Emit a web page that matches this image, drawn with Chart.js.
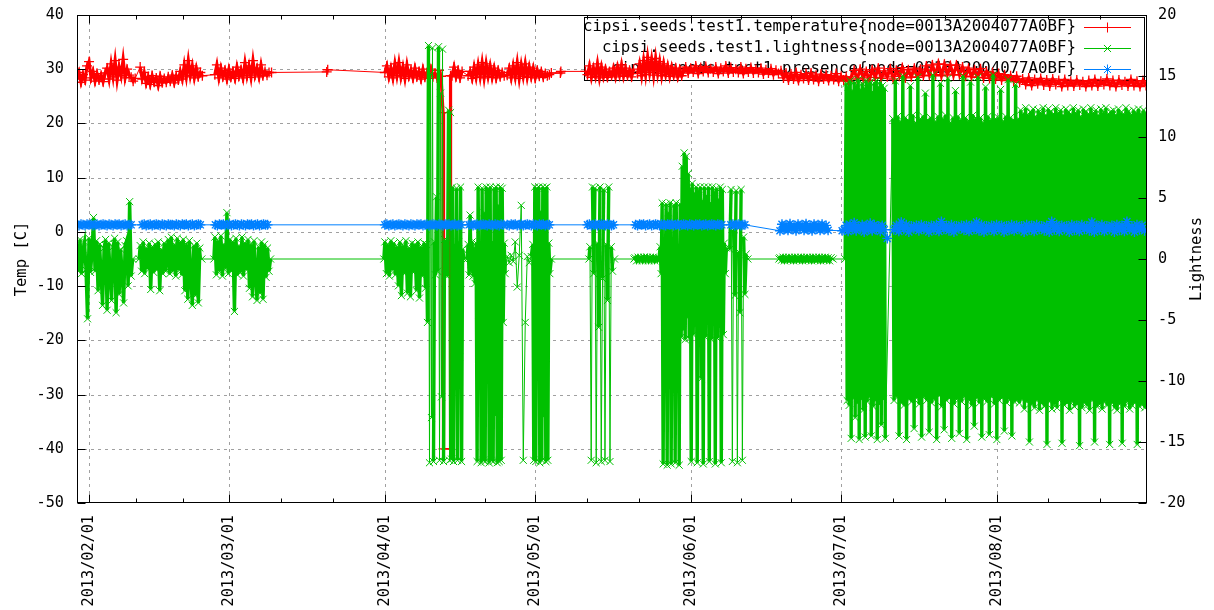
<!DOCTYPE html>
<html>
<head>
<meta charset="utf-8">
<script src="https://cdn.jsdelivr.net/npm/chart.js@4.4.1/dist/chart.umd.min.js"></script>
<style>html,body{margin:0;padding:0;background:#fff;}canvas{display:block;}</style>
</head>
<body>
<canvas id="c" width="1214" height="610"></canvas>
<script>
// ---------- DATA (x = day of year 2013, Jan 1 = 0) ----------
const monthTickDays = [31, 59, 90, 120, 151, 181, 212];
const monthTickLabels = ['2013/02/01','2013/03/01','2013/04/01','2013/05/01','2013/06/01','2013/07/01','2013/08/01'];
const tempTicks = [-50, -40, -30, -20, -10, 0, 10, 20, 30, 40];
const lightTicks = [-20, -15, -10, -5, 0, 5, 10, 15, 20];
const seriesLabels = [
  'cipsi.seeds.test1.temperature{node=0013A2004077A0BF}',
  'cipsi.seeds.test1.lightness{node=0013A2004077A0BF}',
  'cipsi.seeds.test1.presence{node=0013A2004077A0BF}'
];
// segments: [startDay, stepDays, [values...]]  or single points [day, value]
const temperature = [
  [28.6, 0.4, [28.2,29.4,27.6,29.0,28.0,30.6,31.4,28.4,29.6,27.8,29.2,28.0,28.9,27.7,29.3,30.2,28.2,31.0,28.6,31.6,28.0,30.4,28.8,31.8,28.4,30.0,28.9,28.5,27.8,28.3]],
  [41.2, 0.4, [30.4,28.2,29.4,27.4,28.6,27.2,28.8,27.6,28.4,27.0,28.7,27.5,28.3,27.6,28.6,27.8,28.9,27.5,28.8,28.0,29.6,28.2,30.8,28.6,31.6,28.8,30.6,28.4,30.2,28.6,29.4,28.8]],
  [56.1, 0.4, [29.0,30.8,28.4,30.2,28.6,29.8,28.2,30.0,28.5,29.6,28.3,30.4,28.7,29.9,28.4,31.2,28.8,30.6,28.5,31.6,28.9,30.2,28.6,30.8,28.8,29.6,28.9,29.4]],
  [67.4, 29.4], [78.4, 29.5], [78.6, 29.9],
  [90.0, 0.4, [29.4,30.6,28.6,30.2,28.4,31.0,28.8,31.2,28.6,30.4,28.3,30.8,28.7,29.8,28.4,30.2,28.6,29.6,28.2,30.0,28.5,29.4,28.3,30.0,28.6,29.2,28.4,29.8,28.7]],
  [101.6, 22.0], [101.7, -40.0], [103.0, -40.0], [103.1, 28.8],
  [103.4, 0.4, [28.8,30.4,28.6,29.8,28.4,29.6]],
  [106.6, 0.4, [28.8,29.6,28.3,30.4,28.5,30.8,28.6,31.2,28.4,31.0,28.7,30.6,28.5,30.2,28.4,29.8,28.6,29.4,28.8]],
  [114.4, 0.4, [28.9,30.2,28.4,30.6,28.6,31.2,28.3,30.8,28.7,31.0,28.5,30.4,28.6,30.2,28.4,29.8,28.7,29.6,28.5,29.2,28.8,29.0]],
  [123.2, 29.3], [125.0, 29.3], [125.1, 29.6], [130.0, 29.6],
  [130.4, 0.4, [29.0,30.6,28.5,30.2,28.7,31.0,28.4,30.4,28.6,30.0,28.5,29.6,28.8,30.2,28.6,30.4,28.9,30.8,28.7,30.2,28.8,29.8,28.6,30.0]],
  [140.4, 0.4, [29.2,31.0,28.8,31.6,29.0,32.2,29.4,31.8,28.9,32.0,29.2,31.4,28.8,31.0,29.0,30.6,28.7,30.4,28.9,30.2,28.6,30.0,28.8]],
  [149.5, 0.5, [29.6,30.4,29.3,30.2,29.5,30.6,29.2,30.3,29.6,30.5,29.4,30.1,29.5,30.4,29.2,30.2,29.6,30.6,29.3,30.3,29.5,30.0,29.4,30.4,29.2,30.1,29.5,30.3,29.3,30.0,29.4,30.2,29.1,29.9,29.3,30.1,29.0,29.8,29.2,29.7]],
  [169.5, 0.5, [28.4,29.3,28.0,29.1,28.2,29.4,27.9,29.0,28.3,29.2,28.0,29.3,28.1,28.9,27.8,29.1,28.2,29.0,27.9,28.8,28.1,29.2,27.8,28.7,28.0,28.6,27.7]],
  [183.0, 0.6, [28.6,29.8,28.2,30.0,28.4,29.6,28.0,29.9,28.5,30.2,28.3,29.7,28.6,30.1,28.2,29.8,28.7,30.3,28.4,29.9,28.6,30.2,28.5,30.0,28.8,30.6,28.9,30.8,29.0,31.0,28.8,30.9,29.1,30.7,28.9,30.8,29.0,30.4,28.7,30.2,28.6,29.9,28.5,30.1,28.4,29.6,28.3,29.4,28.2,29.2,28.0,29.0,27.9,28.8,27.8,28.7,27.6]],
  [217.2, 0.6, [28.2,27.2,28.4,27.0,28.1,27.3,28.3,27.1,28.0,26.9,28.2,27.2,27.9,26.8,28.1,27.0,27.8,26.9,28.0,27.1,27.7,26.8,27.9,27.0,28.1,26.9,27.8,27.2,28.2,27.0,27.9,26.8,28.0,27.1,27.7,26.9,28.1,27.0,27.8,26.8,27.9,27.0]]
];
const lightness = [
  [28.6, 0.3, [1.2,-1.0,1.6,-1.2,0.8,1.4,-0.9,-4.9,1.7,-1.1,0.6,3.4,-1.0,1.5,-2.6,1.2,-1.3,-3.8,0.9,1.6,-4.2,1.3,-1.2,-3.4,1.0,1.7,-4.4,1.4,-2.9,0.8,-1.2,-3.6,1.1,1.5,-2.2,4.7,-1.4]],
  [39.7, 0], [41.0, 0],
  [41.2, 0.3, [1.1,-1.0,1.4,-1.2,0.9,-0.8,1.3,-2.5,1.0,-1.1,1.2,-0.9,1.4,-2.6,0.8,-1.2,1.3,-1.0,0.9]],
  [46.8, 0.3, [1.6,-1.2,1.8,-1.0,1.2,-1.4,1.7,-0.9,1.4,-1.3,1.6,-2.6,1.2,-3.3,1.5,-1.4,-3.8,1.1,-3.0,1.3,-3.6,0.9]],
  [53.5, 0], [55.9, 0],
  [56.1, 0.3, [1.8,-1.3,1.5,-1.0,1.9,-1.4,1.2,-0.8,3.8,-1.2,1.6,-1.0,1.4,-4.3,1.7,-1.3,1.1,-1.1,1.8,-1.4,1.3,-0.9,1.6,-2.4,1.2,-3.1,1.5,-1.3,-3.4,1.0,-2.8,1.4,-3.3,1.2,-1.5,0.9,-1.0]],
  [67.2, 0], [89.8, 0],
  [90.0, 0.3, [1.4,-1.2,1.2,-1.4,1.5,-0.9,1.3,-1.3,1.0,-2.2,1.4,-3.0,1.1,-1.2,1.5,-2.8,0.9,-3.1,1.3,-1.1,1.2,-2.6,1.4,-3.2,1.0,-1.4,1.3,-2.4]],
  [98.3, 0.2, [1.2,-5.2,17.5,-16.7,15.2,-13.0,17.3,-16.6,1.4,-1.3,5.1,-1.0,17.4,-16.5,13.6,-11.3,17.2,-16.6,1.6,-1.3,1.3,-1.4,12.2,-16.5,12.0,-16.4,5.9,-16.6,1.2,-9.3,5.8,-16.5,1.4,-8.0,5.9,-16.6,0.8]],
  [105.8, 0], [106.4, 0],
  [106.6, 0.2, [1.2,-1.3,3.6,-1.0,1.4,-1.4,0.9,-2.0,1.3,-16.6,5.9,-5.2,1.2,-16.7,5.8,-16.5,3.8,-16.6,5.9,-8.1,5.7,-16.7,5.9,-16.5,1.4,-16.6,5.8,-12.8,5.9,-16.7,4.4,-16.6,5.9,-16.5,5.8,-5.2,1.3,-1.2]],
  [114.4, 0.4, [0.2,-0.3,0.3,-0.2,1.4,-2.3,0.3,4.4,-16.5,-5.2,0.2,-0.3,0.2]],
  [119.5, 0.2, [1.2,-16.5,5.9,-16.6,5.8,-8.2,5.9,-16.7,3.9,-16.5,5.9,-12.9,5.8,-16.6,5.9,-16.5,1.3,-1.2]],
  [123.2, 0], [130.7, 0],
  [130.9, 0.25, [1.0,-16.5,5.9,-1.2,5.8,-16.7,1.3,-5.6,5.9,-16.6,-1.6,5.7,-16.5,1.2,-3.4,5.9,-16.6,1.0,-1.0]],
  [135.8, 0], [139.7, 0],
  [139.9, 0.3, [0.1,-0.15,0.15,-0.1,0.1,-0.15,0.15,-0.1,0.15,-0.15,0.1,-0.1,0.15,-0.15,0.1,-0.1,0.1]],
  [144.9, 0.2, [1.0,-1.2,4.6,-16.8,1.5,-1.4,4.5,-16.9,3.8,-5.8,4.6,-16.8,1.6,-1.6,4.4,-16.7,4.6,-3.5,1.2,-16.9,4.5,-6.4,7.6,-5.8,8.7,-6.6,8.4,-4.8,7.0,-6.5,5.8,-16.6,6.2,-6.2,5.4,-5.5,5.9,-16.7,5.6,-6.6,5.9,-9.8,4.8,-16.8,5.9,-6.4,5.2,-5.0,5.9,-16.6,4.6,-6.6,5.9,-3.9,5.5,-16.8,5.8,-6.5,4.9,-5.6,5.9,-16.7,5.7,-6.2,1.3,-1.2,0.9]],
  [158.8, 0.25, [0.8,5.7,-16.6,2.4,-3.0,5.6,-16.7,0.6,-4.4,5.7,-16.5,1.8,-2.9,0.4]],
  [162.4, 0], [168.6, 0],
  [168.8, 0.3, [0.1,-0.1,0.15,-0.15,0.1,-0.1,0.15,-0.1,0.1,-0.15,0.15,-0.1,0.1,-0.1,0.15,-0.15,0.1,-0.1,0.15,-0.1,0.1,-0.15,0.15,-0.1,0.1,-0.1,0.15,-0.15,0.1,-0.1,0.15,-0.1,0.1,-0.15,0.1]],
  [179.4, 0], [181.8, 0],
  [182.0, 0.2, [14.4,-11.6,14.1,-12.0,14.6,-14.7,13.8,-11.4,14.5,-13.0,14.2,-11.8,14.7,-14.8,13.9,-11.5,14.4,-12.4,14.0,-14.6,14.6,-11.7,14.3,-11.3,14.5,-14.5,13.7,-12.1,14.4,-11.6,14.6,-14.8,14.1,-11.9,14.5,-13.6,14.2,-11.5,14.0,-14.7]],
  [191.3, 0.25, [
    11.5,-11.6,14.6,-11.3,11.7,-14.5,11.3,-11.8,15.0,-12.0,
    11.6,-14.8,11.4,-11.5,14.2,-11.7,11.8,-13.9,11.2,-11.4,
    14.9,-11.9,11.5,-14.6,11.7,-11.3,13.6,-11.6,11.4,-14.2,
    11.6,-11.8,15.1,-11.5,11.3,-14.8,11.7,-11.2,14.4,-12.1,
    11.5,-14.0,11.8,-11.6,14.8,-11.4,11.2,-14.7,11.6,-11.9,
    13.8,-11.5,11.7,-14.3,11.4,-11.7,15.0,-11.3,11.6,-14.8,
    11.3,-11.6,14.5,-12.0,11.8,-13.7,11.5,-11.4,14.9,-11.8,
    11.6,-14.6,11.2,-11.5,14.1,-11.7,11.7,-14.4,11.4,-11.3,
    15.1,-11.9,11.5,-14.8,11.6,-11.6,13.9,-11.4,11.3,-14.1,
    11.7,-11.8,14.7,-11.5,11.6,-14.5,11.4,-11.7,14.3,-11.6,
    11.5,
    -11.8,12.2,-11.5,11.9,-12.3,12.4,-11.7,11.8,-15.0,12.1,
    -11.9,12.3,-12.2,11.7,-11.6,12.2,-12.4,12.0,-11.8,12.4,
    -12.1,11.8,-15.2,12.3,-11.7,12.1,-12.3,11.9,-11.9,12.4,
    -12.2,12.0,-11.6,12.2,-15.1,11.8,-12.0,12.3,-11.8,12.1,
    -12.4,11.9,-11.7,12.4,-12.1,12.0,-11.9,12.2,-15.3,11.7,
    -12.2,12.3,-11.8,12.1,-12.0,11.9,-12.4,12.4,-11.6,12.0,
    -15.0,12.2,-12.1,11.8,-11.9,12.3,-12.3,12.0,-11.7,12.4,
    -12.0,11.9,-15.2,12.1,-11.8,12.2,-12.2,11.8,-12.4,12.3,
    -11.9,12.0,-15.1,11.9,-12.1,12.4,-11.7,12.1,-12.3,11.8,
    -12.0,12.2,-11.8,12.0,-15.2,12.3,-12.1,11.9,-11.9,12.2,
    -12.2,12.0]]
];
const presence = [
  [28.6, 0.4, [1.3,1.2,1.4,1.3,1.2,1.4,1.3,1.4,1.2,1.3,1.4,1.2,1.3,1.4,1.3,1.2,1.4,1.3,1.2,1.4,1.3,1.4,1.2,1.3,1.4,1.2,1.3,1.3]],
  [41.6, 0.4, [1.3,1.4,1.2,1.3,1.4,1.2,1.3,1.4,1.3,1.2,1.4,1.3,1.2,1.4,1.3,1.3,1.2,1.4,1.3,1.2,1.4,1.3,1.4,1.2,1.3,1.4,1.2,1.3,1.4,1.3]],
  [56.2, 0.4, [1.3,1.2,1.4,1.3,1.4,1.2,1.3,1.4,1.2,1.3,1.4,1.3,1.2,1.4,1.3,1.2,1.4,1.3,1.4,1.2,1.3,1.4,1.2,1.3,1.4,1.3,1.3]],
  [90.0, 0.4, [1.3,1.4,1.2,1.3,1.4,1.2,1.3,1.4,1.3,1.2,1.4,1.3,1.2,1.4,1.3,1.2,1.4,1.3,1.4,1.2,1.3,1.4,1.2,1.3,1.4,1.3,1.2,1.4,1.3,1.2,1.4,1.3,1.4,1.2,1.3,1.4,1.2,1.3,1.3]],
  [106.8, 0.4, [1.3,1.4,1.2,1.3,1.4,1.2,1.3,1.4,1.3,1.2,1.4,1.3,1.2,1.4,1.3,1.2,1.4,1.3]],
  [114.4, 0.4, [1.3,1.2,1.4,1.3,1.4,1.2,1.3,1.4,1.2,1.3,1.4,1.3,1.2,1.4,1.3,1.2,1.4,1.3,1.4,1.2,1.3,1.3]],
  [130.4, 0.4, [1.3,1.4,1.2,1.3,1.4,1.2,1.3,1.4,1.3,1.2,1.4,1.3,1.2,1.3]],
  [140.0, 0.4, [1.3,1.2,1.4,1.3,1.4,1.2,1.3,1.4,1.2,1.3,1.4,1.3,1.2,1.4,1.3,1.2,1.4,1.3,1.4,1.2,1.3,1.4,1.2,1.3,1.4,1.3,1.2,1.4,1.3,1.2,1.4,1.3,1.4,1.2,1.3,1.4,1.2,1.3,1.4,1.3,1.2,1.4,1.3,1.3]],
  [159.0, 0.4, [1.3,1.4,1.2,1.3,1.4,1.2,1.3,1.3]],
  [168.8, 0.4, [0.2,1.4,0.4,1.3,0.3,1.5,0.5,1.2,0.2,1.4,0.6,1.3,0.3,1.5,0.4,1.2,0.2,1.4,0.5,1.3,0.3,1.4,0.4,1.2,0.3]],
  [181.2, 0.2],
  [181.6, 0.4, [0.4,1.2,0.1,1.3,0.5,1.7,0.2,1.1,0.6,1.3,0.0,1.2,0.4,1.6,0.2,1.3,0.5,1.1,0.1,1.2,0.4]],
  [190.2, -1.2],
  [191.5, 0.5, [
    0.4,1.2,0.1,1.8,0.5,1.3,0.0,1.1,0.6,1.2,
    0.2,1.3,0.5,1.1,0.0,1.2,0.4,1.3,0.1,1.9,
    0.5,1.2,0.2,1.3,0.0,1.1,0.6,1.2,0.3,1.3,
    0.1,1.2,0.5,1.8,0.2,1.3,0.0,1.1,0.4,1.2,
    0.1,1.3,0.5,1.2,0.0,1.1,0.3,1.3,0.2,1.2,
    0.5,1.1,0.0,1.3,0.4,1.2,0.1,1.3,0.5,1.1,
    0.2,1.2,0.0,1.9,0.4,1.3,0.1,1.2,0.5,1.1,
    0.0,1.3,0.3,1.2,0.1,1.3,0.5,1.1,0.2,1.8,
    0.0,1.2,0.4,1.3,0.1,1.1,0.5,1.2,0.0,1.3,
    0.3,1.2,0.1,1.9,0.5,1.1,0.0,1.3,0.4,1.2,
    0.2]]
];

// ---------- helpers ----------
function build(segs) {
  const out = [];
  for (const s of segs) {
    if (Array.isArray(s[2])) {
      const t0 = s[0], dt = s[1];
      s[2].forEach((v, i) => out.push({ x: +(t0 + i * dt).toFixed(3), y: v }));
    } else {
      out.push({ x: s[0], y: s[1] });
    }
  }
  return out;
}
const FONT = '"DejaVu Sans Mono", "Liberation Mono", monospace';
const COLORS = ['#ff0000', '#00c000', '#0080ff'];
const STYLES = ['cross', 'crossRot', 'star'];

function drawMarker(ctx, style, x, y, r) {
  ctx.beginPath();
  if (style === 'cross' || style === 'star') {
    ctx.moveTo(x - r, y); ctx.lineTo(x + r, y);
    ctx.moveTo(x, y - r); ctx.lineTo(x, y + r);
  }
  if (style === 'crossRot' || style === 'star') {
    const d = r * Math.SQRT1_2;
    ctx.moveTo(x - d, y - d); ctx.lineTo(x + d, y + d);
    ctx.moveTo(x - d, y + d); ctx.lineTo(x + d, y - d);
  }
  ctx.stroke();
}

const deco = {
  id: 'deco',
  beforeDatasetsDraw(chart) {
    const { ctx, chartArea: a, scales } = chart;
    const xs = scales.x, ys = scales.y;
    ctx.save();
    ctx.strokeStyle = '#a0a0a0';
    ctx.lineWidth = 1;
    ctx.setLineDash([3, 4]);
    ctx.beginPath();
    for (const d of monthTickDays) {
      const px = Math.round(xs.getPixelForValue(d)) + 0.5;
      ctx.moveTo(px, a.top); ctx.lineTo(px, a.bottom);
    }
    for (const t of tempTicks) {
      if (t === tempTicks[0] || t === tempTicks[tempTicks.length - 1]) continue;
      const py = Math.round(ys.getPixelForValue(t)) + 0.5;
      ctx.moveTo(a.left, py); ctx.lineTo(a.right, py);
    }
    ctx.stroke();
    ctx.setLineDash([]);
    // legend (drawn under the data, as in the original)
    const bx = 584.5, by = 17.5, bw = 560, bh = 63;
    ctx.fillStyle = '#fff';
    ctx.fillRect(bx, by, bw, bh);
    ctx.strokeStyle = '#000';
    ctx.strokeRect(bx, by, bw, bh);
    ctx.font = '15.75px ' + FONT;
    ctx.textAlign = 'right';
    ctx.textBaseline = 'middle';
    const rows = [27, 48, 69];
    seriesLabels.forEach((lab, i) => {
      ctx.fillStyle = '#000';
      ctx.fillText(lab, 1076, rows[i]);
      ctx.strokeStyle = COLORS[i];
      ctx.lineWidth = 1;
      ctx.beginPath();
      ctx.moveTo(1084, rows[i] + 0.5); ctx.lineTo(1131, rows[i] + 0.5);
      ctx.stroke();
      drawMarker(ctx, STYLES[i], 1107.5, rows[i] + 0.5, 5);
    });
    ctx.restore();
  },
  afterDatasetsDraw(chart) {
    const { ctx, chartArea: a, scales } = chart;
    const xs = scales.x, ys = scales.y, y2 = scales.y2;
    ctx.save();
    ctx.strokeStyle = '#000';
    ctx.lineWidth = 1;
    const L = Math.round(a.left) + 0.5, R = Math.round(a.right) - 0.5;
    const T = Math.round(a.top) + 0.5, B = Math.round(a.bottom) - 0.5;
    ctx.strokeRect(L, T, R - L, B - T);
    ctx.beginPath();
    const major = 8, minor = 4;
    const allMonths = monthTickDays.concat([243]);
    for (let i = 0; i < allMonths.length; i++) {
      const d = allMonths[i];
      if (d <= xs.max) {
        const px = Math.round(xs.getPixelForValue(d)) + 0.5;
        ctx.moveTo(px, B); ctx.lineTo(px, B - major);
        ctx.moveTo(px, T); ctx.lineTo(px, T + major);
      }
      if (i < allMonths.length - 1) {
        const step = (allMonths[i + 1] - d) / 3;
        for (let k = 1; k <= 2; k++) {
          const dm = d + k * step;
          if (dm < xs.min || dm > xs.max) continue;
          const pm = Math.round(xs.getPixelForValue(dm)) + 0.5;
          ctx.moveTo(pm, B); ctx.lineTo(pm, B - minor);
          ctx.moveTo(pm, T); ctx.lineTo(pm, T + minor);
        }
      }
    }
    for (const t of tempTicks) {
      const py = Math.round(ys.getPixelForValue(t)) + 0.5;
      ctx.moveTo(L, py); ctx.lineTo(L + major, py);
    }
    for (const t of lightTicks) {
      const py = Math.round(y2.getPixelForValue(t)) + 0.5;
      ctx.moveTo(R, py); ctx.lineTo(R - major, py);
    }
    ctx.stroke();
    ctx.fillStyle = '#000';
    // right-axis (Lightness) tick labels
    ctx.font = '15.2px ' + FONT;
    ctx.textAlign = 'left';
    ctx.textBaseline = 'middle';
    for (const t of lightTicks) {
      ctx.fillText(String(t), 1158, y2.getPixelForValue(t));
    }
    // axis titles
    ctx.font = '15.5px ' + FONT;
    ctx.textAlign = 'center';
    const cy = (a.top + a.bottom) / 2;
    ctx.save(); ctx.translate(22, cy); ctx.rotate(-Math.PI / 2); ctx.fillText('Temp [C]', 0, 0); ctx.restore();
    ctx.save(); ctx.translate(1197, cy); ctx.rotate(-Math.PI / 2); ctx.fillText('Lightness', 0, 0); ctx.restore();
    ctx.restore();
  }
};

const tickFont = { family: FONT, size: 15.2 };
// dense runs of readings get a heavier stroke so they read as solid bands (as the original's thousands of samples do)
const ds = (i, data, axis, order, isDense, denseWidth, pbw) => ({
  label: seriesLabels[i], data, yAxisID: axis, order,
  borderColor: COLORS[i], backgroundColor: COLORS[i],
  pointBorderColor: COLORS[i], pointBackgroundColor: COLORS[i],
  borderWidth: 1, pointBorderWidth: pbw, pointRadius: 5, pointHoverRadius: 5,
  pointStyle: STYLES[i], fill: false, tension: 0,
  segment: { borderWidth: c => isDense(c.p1.parsed.x - c.p0.parsed.x, Math.abs(c.p1.parsed.y - c.p0.parsed.y), c.p0.parsed.x) ? denseWidth : 1 }
});
const redDense = (dx) => dx <= 0.61;
const greenDense = (dx, dy, x) => (dx <= 0.31 && (dy < 12 || x >= 181)) || (dx <= 0.21 && dy < 24);
const blueDense = (dx) => dx <= 0.51;

new Chart(document.getElementById('c'), {
  type: 'line',
  data: {
    datasets: [
      ds(0, build(temperature), 'y', 3, redDense, 3.2, 1.3),
      ds(1, build(lightness), 'y2', 2, greenDense, 3.4, 1),
      ds(2, build(presence), 'y', 1, blueDense, 2.5, 1.4)
    ]
  },
  options: {
    responsive: false,
    animation: false,
    events: [],
    layout: { padding: { top: 15, left: 0, right: 0, bottom: 0 } },
    plugins: { legend: { display: false }, tooltip: { enabled: false } },
    scales: {
      x: {
        type: 'linear', position: 'bottom', min: 28.6, max: 242.0,
        afterBuildTicks: s => { s.ticks = monthTickDays.map(v => ({ value: v })); },
        ticks: {
          autoSkip: false, maxRotation: 90, minRotation: 90, padding: 4,
          color: '#000', font: tickFont,
          callback: v => { const i = monthTickDays.indexOf(v); return i >= 0 ? monthTickLabels[i] : ''; }
        },
        grid: { display: false }, border: { display: false },
        afterFit: s => { s.height = 107; }
      },
      y: {
        type: 'linear', position: 'left', min: -50, max: 40,
        afterBuildTicks: s => { s.ticks = tempTicks.map(v => ({ value: v })); },
        ticks: { padding: 5, color: '#000', font: tickFont, callback: v => String(v) },
        grid: { display: false }, border: { display: false },
        afterFit: s => { s.width = 77; }
      },
      y2: {
        type: 'linear', position: 'right', min: -20, max: 20,
        afterBuildTicks: s => { s.ticks = lightTicks.map(v => ({ value: v })); },
        ticks: { display: false },
        grid: { display: false }, border: { display: false },
        afterFit: s => { s.width = 67; }
      }
    }
  },
  plugins: [deco]
});
</script>
</body>
</html>
